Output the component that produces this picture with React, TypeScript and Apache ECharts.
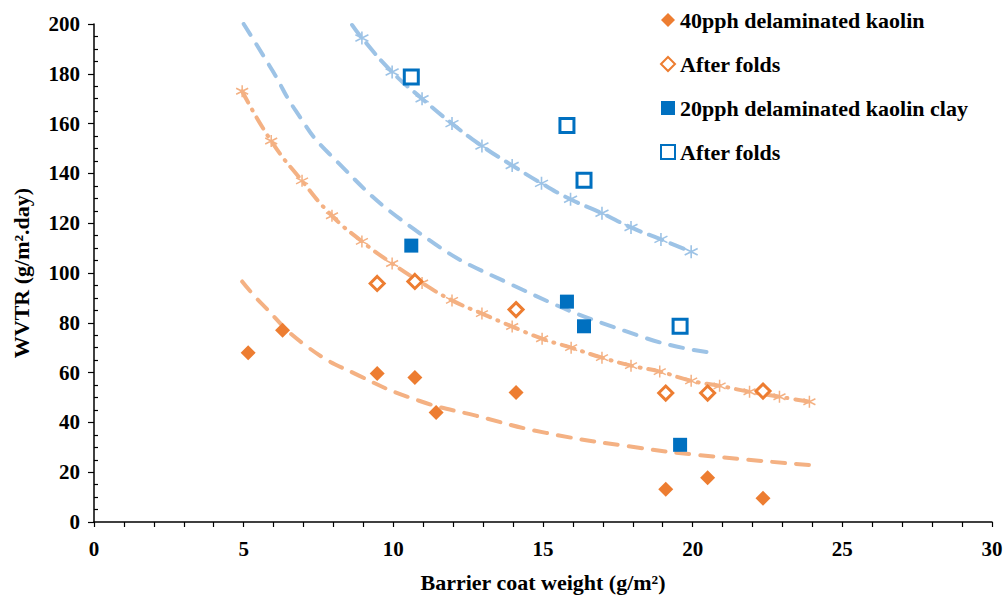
import React, { useEffect, useRef } from "react";
import * as echarts from "echarts";

// ---- Data ----
const kaolin40: [number, number][] = [
  [5.15, 68], [6.3, 77], [9.46, 59.6], [10.72, 58], [11.43, 44], [14.1, 52],
  [19.1, 13.2], [20.5, 17.8], [22.35, 9.5],
];
const kaolin40Folds: [number, number][] = [
  [9.46, 95.8], [10.72, 96.6], [14.1, 85.3], [19.1, 51.8], [20.5, 51.8], [22.35, 52.6],
];
const clay20: [number, number][] = [
  [10.6, 111], [15.8, 88.5], [16.37, 78.6], [19.58, 31],
];
const clay20Folds: [number, number][] = [
  [10.6, 178.7], [15.8, 159.2], [16.37, 137.2], [19.58, 78.6],
];
// model curves with asterisk markers
const modelBlue: [number, number][] = [
  [8.95, 194.4], [9.96, 180.7], [10.96, 170], [11.96, 160], [12.96, 151], [13.97, 143.2],
  [14.95, 136], [15.92, 129.6], [16.97, 124], [17.94, 118.3], [18.94, 113.5], [19.95, 108.5],
];
const modelBlueLine: [number, number][] = [[8.62, 199.6], ...modelBlue];
const modelOrange: [number, number][] = [
  [4.95, 173], [5.92, 153], [6.95, 137], [7.95, 123], [8.95, 112.7], [9.96, 103.8],
  [10.96, 96], [11.96, 89], [12.96, 83.7], [13.97, 78.5], [14.97, 73.6], [15.94, 70],
  [16.97, 66], [17.94, 62.8], [18.9, 60.4], [19.95, 56.7], [20.9, 54.7], [21.9, 52.3],
  [22.9, 50.3], [23.9, 48.3],
];
// trend lines
const trend40: [number, number][] = [
  [4.95, 96.6], [5.6, 87.7], [7.08, 70.8], [8.85, 58.8], [10.86, 48.7], [12.76, 42.7],
  [15.1, 35.8], [18.2, 29.8], [20.1, 27], [23.9, 22.9],
];
const trend20: [number, number][] = [
  [5.0, 200], [5.95, 181.5], [6.75, 165], [7.85, 148], [10.76, 117], [13.87, 95.8],
  [18.4, 74], [20.65, 68],
];

const xTicks = { min: 0, max: 30, interval: 5 };
const yTicks = { min: 0, max: 200, interval: 20 };

const ORANGE = "#ED7D31";
const LORANGE = "#F4B183";
const BLUE = "#0070C0";
const LBLUE = "#9DC3E6";
const FONT = "'Liberation Serif', 'Times New Roman', serif";
const ASTERISK = "path://M5,0L5,10M0.67,2.5L9.33,7.5M0.67,7.5L9.33,2.5";

export default function App() {
  const ref = useRef<HTMLDivElement>(null);
  useEffect(() => {
    if (!ref.current) return;
    const chart = echarts.init(ref.current, undefined, { renderer: "svg" });
    const txt = { color: "#000", fontFamily: FONT, fontWeight: "bold" as const };
    chart.setOption({
      animation: false,
      backgroundColor: "#fff",
      grid: { left: 94, top: 24, right: 14, bottom: 81 },
      legend: {
        orient: "vertical",
        left: 660,
        top: 9,
        padding: 0,
        itemWidth: 14,
        itemHeight: 14,
        itemGap: 22,
        data: ["40pph delaminated kaolin", "After folds", "20pph delaminated kaolin clay", "After folds "],
        textStyle: { ...txt, fontSize: 22 },
      },
      xAxis: {
        type: "value",
        ...xTicks,
        name: "Barrier coat weight (g/m²)",
        nameLocation: "middle",
        nameGap: 49,
        nameTextStyle: { ...txt, fontSize: 22 },
        axisLine: { lineStyle: { color: "#000", width: 1.5 } },
        axisTick: { length: 5, lineStyle: { color: "#000", width: 1.2 } },
        minorTick: { show: true, splitNumber: 5, length: 5, lineStyle: { color: "#000", width: 1.2 } },
        axisLabel: { ...txt, fontSize: 21, margin: 16 },
        splitLine: { show: false },
      },
      yAxis: [
        {
          type: "value",
          ...yTicks,
          name: "WVTR (g/m².day)",
          nameLocation: "middle",
          nameGap: 62,
          nameTextStyle: { ...txt, fontSize: 22 },
          axisLine: { lineStyle: { color: "#000", width: 1.5 } },
          axisTick: { length: 6, lineStyle: { color: "#000", width: 1.2 } },
          axisLabel: { ...txt, fontSize: 21, margin: 14 },
          splitLine: { show: false },
        },
        {
          type: "value",
          ...yTicks,
          position: "left",
          offset: 0,
          axisLine: { show: false },
          axisTick: { show: false, inside: true },
          minorTick: { show: true, splitNumber: 4, length: 4, lineStyle: { color: "#000", width: 1.2 } },
          axisLabel: { show: false },
          splitLine: { show: false },
        },
      ],
      series: [
        {
          type: "line", name: "trend40", data: trend40, smooth: true, symbol: "none",
          lineStyle: { color: LORANGE, width: 4, type: [13, 11], cap: "round" }, z: 2,
        },
        {
          type: "line", name: "trend20", data: trend20, smooth: true, symbol: "none",
          lineStyle: { color: LBLUE, width: 4, type: [13, 11], cap: "round" }, z: 2,
        },
        {
          type: "line", name: "modelBlueLine", data: modelBlueLine, smooth: true, symbol: "none",
          lineStyle: { color: LBLUE, width: 4, type: [14, 9], cap: "round" }, z: 2,
        },
        {
          type: "scatter", name: "modelBlue", data: modelBlue, symbol: ASTERISK, symbolSize: 13,
          itemStyle: { color: LBLUE, borderColor: LBLUE, borderWidth: 1.6, opacity: 1 }, z: 3,
        },
        {
          type: "line", name: "modelOrangeLine", data: modelOrange, smooth: true, symbol: "none",
          lineStyle: { color: LORANGE, width: 4, type: [13, 8, 1, 8], cap: "round" }, z: 2,
        },
        {
          type: "scatter", name: "modelOrange", data: modelOrange, symbol: ASTERISK, symbolSize: 12,
          itemStyle: { color: LORANGE, borderColor: LORANGE, borderWidth: 1.5, opacity: 1 }, z: 3,
        },
        {
          type: "scatter", name: "40pph delaminated kaolin", data: kaolin40, symbol: "diamond", symbolSize: 15,
          itemStyle: { color: ORANGE, opacity: 1 }, z: 5,
        },
        {
          type: "scatter", name: "After folds", data: kaolin40Folds, symbol: "diamond", symbolSize: 14,
          itemStyle: { color: "#fff", borderColor: ORANGE, borderWidth: 3, opacity: 1 }, z: 5,
        },
        {
          type: "scatter", name: "20pph delaminated kaolin clay", data: clay20, symbol: "rect", symbolSize: 14,
          itemStyle: { color: BLUE, opacity: 1 }, z: 5,
        },
        {
          type: "scatter", name: "After folds ", data: clay20Folds, symbol: "rect", symbolSize: 14,
          itemStyle: { color: "#fff", borderColor: BLUE, borderWidth: 3, opacity: 1 }, z: 5,
        },
      ],
    });
    return () => chart.dispose();
  }, []);
  return (
    <div
      ref={ref}
      style={{ position: "absolute", left: 0, top: 0, width: 1006, height: 603, background: "#fff" }}
    />
  );
}
